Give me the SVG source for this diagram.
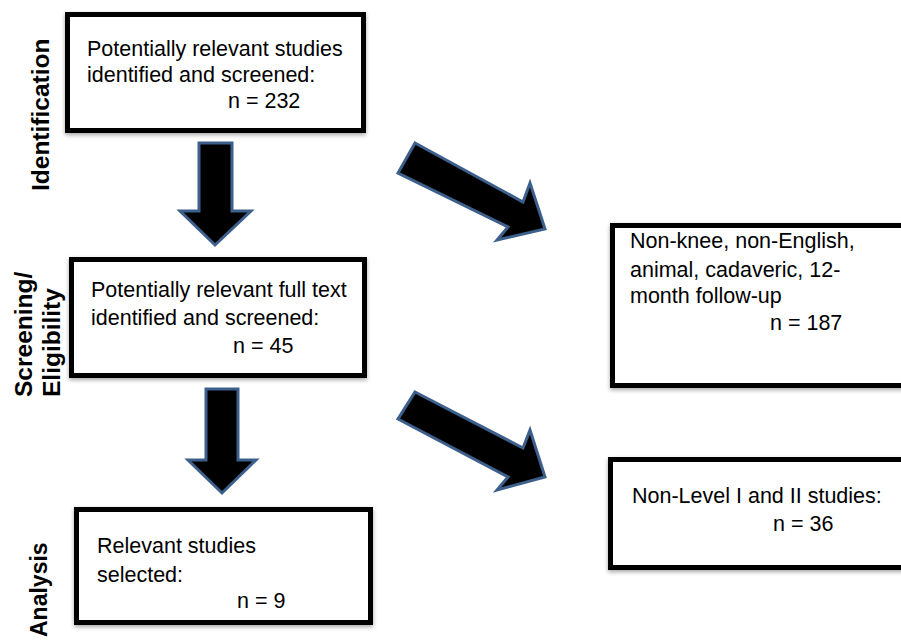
<svg xmlns="http://www.w3.org/2000/svg" width="901" height="640" viewBox="0 0 901 640">
<defs>
<filter id="sh" x="-10%" y="-10%" width="120%" height="130%">
<feDropShadow dx="0" dy="2" stdDeviation="2" flood-color="#000" flood-opacity="0.35"/>
</filter>
<style>
.box{fill:#fff;stroke:#000;stroke-width:5;filter:url(#sh)}
.t{font-family:"Liberation Sans",Arial,sans-serif;font-size:21.5px;fill:#000}
.side{font-family:"Liberation Sans",Arial,sans-serif;font-size:24.5px;font-weight:bold;fill:#000}
.arr{fill:#000;stroke:#3d5f8c;stroke-width:3;stroke-linejoin:miter}
</style>
</defs>
<rect width="901" height="640" fill="#fff"/>
<g id="labels">
<text class="side" transform="translate(49,191) rotate(-90)">Identification</text>
<text class="side" transform="translate(32,397) rotate(-90)">Screening/</text>
<text class="side" transform="translate(60,397) rotate(-90)">Eligibility</text>
<text class="side" transform="translate(47,637) rotate(-90)" style="font-size:23px">Analysis</text>
</g>
<g id="connectors">
<polygon class="arr" points="199,143 232,143 232,211 251,211 215,245 180,211 199,211"/>
<polygon class="arr" points="206,389 238,389 238,460 256,460 222,493 188,460 206,460"/>
<polygon class="arr" points="415,143 523,202 530,183 545,229 497,240 508,227 398,173"/>
<polygon class="arr" points="415,392 523,448 530,430 545,477 497,490 508,477 398,419"/>
</g>
<g id="node1">
<rect class="box" x="67.5" y="14.5" width="296" height="116"/>
<text class="t" x="87" y="56">Potentially relevant studies</text>
<text class="t" x="87" y="82">identified and screened:</text>
<text class="t" x="228" y="108">n = 232</text>
</g>
<g id="node2">
<rect class="box" x="71.5" y="259.5" width="293" height="116"/>
<text class="t" x="91" y="297">Potentially relevant full text</text>
<text class="t" x="91" y="325">identified and screened:</text>
<text class="t" x="233" y="353">n = 45</text>
</g>
<g id="node3">
<rect class="box" x="76.5" y="509.5" width="294" height="113"/>
<text class="t" x="97" y="553">Relevant studies</text>
<text class="t" x="97" y="582">selected:</text>
<text class="t" x="237" y="608">n = 9</text>
</g>
<g id="node4">
<rect class="box" x="612.5" y="225.5" width="300" height="160"/>
<text class="t" x="630" y="248">Non-knee, non-English,</text>
<text class="t" x="630" y="277">animal, cadaveric, 12-</text>
<text class="t" x="630" y="303">month follow-up</text>
<text class="t" x="770" y="330">n = 187</text>
</g>
<g id="node5">
<rect class="box" x="610.5" y="459.5" width="302" height="108"/>
<text class="t" x="632" y="503">Non-Level I and II studies:</text>
<text class="t" x="773" y="531">n = 36</text>
</g>
</svg>
